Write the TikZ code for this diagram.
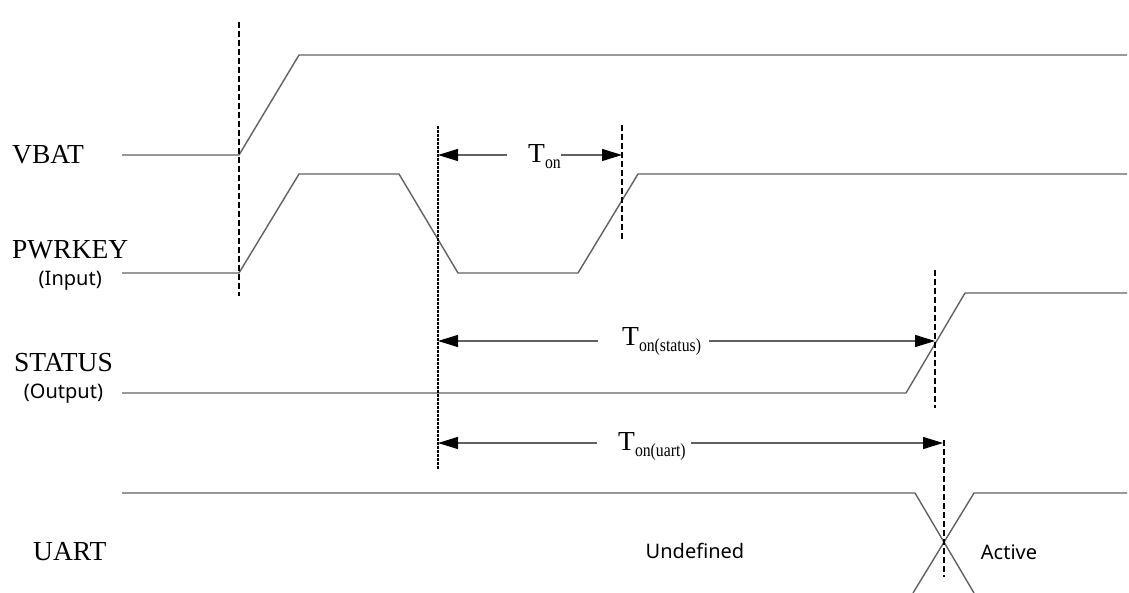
\documentclass[tikz,border=0pt]{standalone}
\usepackage{fontspec}
\setmainfont{Liberation Serif}
\setsansfont{Noto Sans}
\usepackage{tikz}
\usetikzlibrary{arrows.meta,positioning,calc}
\newcommand{\tdelay}[1]{T\raisebox{-6pt}{\scalebox{0.85}[1]{\fontsize{18.5}{18.5}\selectfont #1}}}
\tikzstyle{signal} = [draw=black!62, line width=1.4pt, line join=round]
\tikzstyle{marker} = [draw=black, line width=1.2pt, dash pattern=on 6pt off 3pt]
\tikzstyle{trigger} = [draw=black, line width=1.6pt, dash pattern=on 3pt off 1pt]
\tikzstyle{span} = [draw=black!62, line width=1.4pt, -{Triangle[length=20pt,width=12pt,color=black]}]
\tikzstyle{signame} = [font=\fontsize{27.5}{27.5}\selectfont, anchor=base west, inner sep=0pt]
\tikzstyle{dirname} = [font=\sffamily\fontsize{20}{20}\selectfont, inner sep=0pt]
\tikzstyle{delay} = [font=\fontsize{27.5}{27.5}\selectfont, anchor=base west, inner sep=0pt]

\begin{document}
\begin{tikzpicture}[x=1pt, y=-1pt]
\useasboundingbox (0,0) rectangle (1129,593);

% signal names =============================
\node[signame] (vbat) at (12,164) {VBAT};
\node[signame] (pwrkey) at (12,259) {PWRKEY};
\node[dirname, below=11pt of pwrkey] (input) {(Input)};
\node[signame] (status) at (14,371) {STATUS};
\node[dirname, below=12pt of status] (output) {(Output)};
\node[signame] (uart) at (33,560) {UART};

% waveforms
\draw[signal] (122,155) -- (239,155) -- (299,55) -- (1127,55);
\draw[signal] (122,273) -- (239,273) -- (299,174) -- (399,174) -- (458,273) -- (578,273) -- (638,174) -- (1127,174);
\draw[signal] (122,393) -- (906,393) -- (965,293) -- (1127,293);
\draw[signal] (122,493) -- (915,493) -- (974,593);
\draw[signal] (913,593) -- (974,493) -- (1127,493);

\node[dirname] (undef) at (695,551) {Undefined};
\node[dirname] (active) at (1009,552) {Active};

% time markers
\coordinate (vb) at (239,22);
\coordinate (vbend) at (239,296);
\coordinate (press) at (438,126);
\coordinate (pressend) at (438,470);
\coordinate (on) at (622,125);
\coordinate (onend) at (622,241);
\coordinate (st) at (935,270);
\coordinate (stend) at (935,408);
\coordinate (ua) at (944,440);
\coordinate (uaend) at (944,577);

\draw[marker] (vb) -- (vbend);
\draw[trigger] (press) -- (pressend);
\draw[marker] (on) -- (onend);
\draw[marker] (st) -- (stend);
\draw[marker] (ua) -- (uaend);

% delays
\coordinate (ton) at (622,155);
\coordinate (tst) at (935,341);
\coordinate (tua) at (943,443);

\node[delay] (tonlbl) at (528,163) {\tdelay{on}};
\node[delay] (tstlbl) at (622,345) {\tdelay{on(status)}};
\node[delay] (tualbl) at (618,450) {\tdelay{on(uart)}};

\draw[span] ($(tonlbl.west |- ton)+(-21,0)$) -- (press |- ton);
\draw[span] (tonlbl.east |- ton) -- (ton);
\draw[span] ($(tstlbl.west |- tst)+(-24,0)$) -- (press |- tst);
\draw[span] ($(tstlbl.east |- tst)+(8,0)$) -- (tst);
\draw[span] ($(tualbl.west |- tua)+(-21,0)$) -- (press |- tua);
\draw[span] ($(tualbl.east |- tua)+(5,0)$) -- (tua);

\end{tikzpicture}
\end{document}
